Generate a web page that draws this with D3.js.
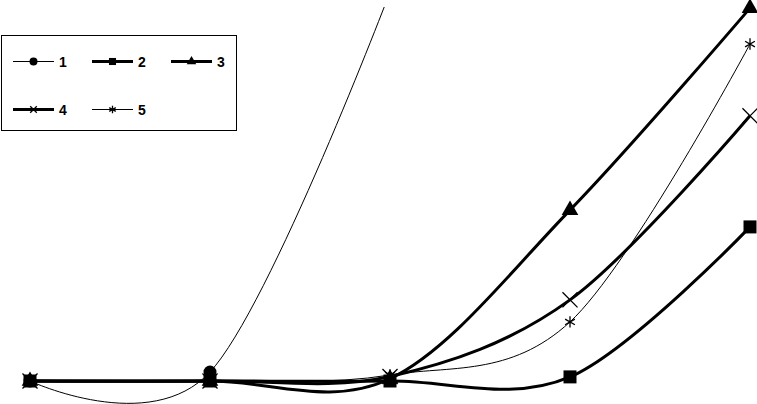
<!DOCTYPE html>
<html>
<head>
<meta charset="utf-8">
<script src="https://cdn.jsdelivr.net/npm/d3@7"></script>
<style>
  body { margin: 0; background: #fff; }
  svg { display: block; }
</style>
</head>
<body>
<div id="chart"></div>
<script>
// categories on the x axis (5 points)
var categories = [1, 2, 3, 4, 5];

// series values (series 1 only has 3 points, last one runs off the top)
var series1 = [0, 2.4, 104];
var series2 = [0, 0, 0, 1.1, 41.2];
var series3 = [0, 0, 0.6, 45.7, 99.7];
var series4 = [0, 0, 1.2, 21.7, 70.9];
var series5 = [0, 0, 1.6, 15.8, 90.1];

var seriesNames = ["1", "2", "3", "4", "5"];

var width = 757, height = 404;

var svg = d3.select("#chart")
  .append("svg")
    .attr("width", width)
    .attr("height", height);

var x = d3.scalePoint()
  .domain(categories)
  .range([30, 750]);

var y = d3.scaleLinear()
  .domain([0, 100])
  .range([381, 7]);

// plot area clip (lines only, markers may overflow)
svg.append("clipPath")
    .attr("id", "plotclip")
  .append("rect")
    .attr("x", 0)
    .attr("y", y(100))
    .attr("width", width)
    .attr("height", height - y(100));

var styles = [
  { data: series1, lw: 1,   sym: d3.symbolCircle,   size: 133, fill: true,  lsize: 50 },
  { data: series2, lw: 3,   sym: d3.symbolSquare,   size: 169, fill: true,  lsize: 50 },
  { data: series3, lw: 3,   sym: d3.symbolTriangle, size: 120, fill: true,  lsize: 40 },
  { data: series4, lw: 3,   sym: d3.symbolTimes,    size: 150, fill: false, lsize: 30 },
  { data: series5, lw: 1,   sym: d3.symbolAsterisk, size: 90,  fill: false, lsize: 40 }
];

var line = d3.line()
  .x(function(d, i) { return x(categories[i]); })
  .y(function(d) { return y(d); })
  .curve(d3.curveCardinal.tension(0));

styles.forEach(function(s) {
  svg.append("path")
    .attr("clip-path", "url(#plotclip)")
    .attr("d", line(s.data))
    .attr("fill", "none")
    .attr("stroke", "#000")
    .attr("stroke-width", s.lw);

  svg.selectAll(null)
    .data(s.data)
    .enter()
    .append("path")
      .attr("transform", function(d, i) { return "translate(" + x(categories[i]) + "," + y(d) + ")"; })
      .attr("d", d3.symbol().type(s.sym).size(s.size))
      .attr("fill", s.fill ? "#000" : "none")
      .attr("stroke", "#000")
      .attr("stroke-width", s.fill ? 0 : 1.3);
});

// legend box
var legend = svg.append("g");
legend.append("rect")
    .attr("x", 1.5)
    .attr("y", 35.5)
    .attr("width", 235)
    .attr("height", 95)
    .attr("fill", "#fff")
    .attr("stroke", "#000")
    .attr("stroke-width", 1);

var legendPos = [
  { x: 13, y: 61.5 }, { x: 92, y: 61.5 }, { x: 171, y: 61.5 },
  { x: 13, y: 109.5 }, { x: 92, y: 109.5 }
];

styles.forEach(function(s, i) {
  var p = legendPos[i];
  var g = legend.append("g").attr("transform", "translate(" + p.x + "," + p.y + ")");
  g.append("line")
    .attr("x1", 0).attr("x2", 41)
    .attr("y1", 0).attr("y2", 0)
    .attr("stroke", "#000")
    .attr("stroke-width", s.lw);
  g.append("path")
    .attr("transform", "translate(20.5,0)")
    .attr("d", d3.symbol().type(s.sym).size(s.lsize))
    .attr("fill", s.fill ? "#000" : "none")
    .attr("stroke", "#000")
    .attr("stroke-width", s.fill ? 0 : 1.3);
  g.append("text")
    .attr("x", 46)
    .attr("y", 5)
    .attr("font-family", "Liberation Sans, Arial, sans-serif")
    .attr("font-weight", "bold")
    .attr("font-size", 14)
    .text(seriesNames[i]);
});
</script>
</body>
</html>
